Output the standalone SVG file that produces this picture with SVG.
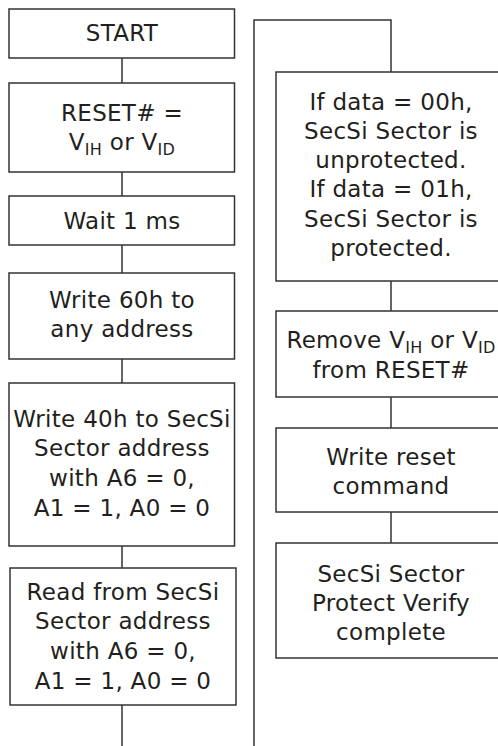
<svg xmlns="http://www.w3.org/2000/svg" width="498" height="746" viewBox="0 0 498 746">
<style>
.box{fill:#fff;stroke:#333;stroke-width:1.5}
.ln{fill:none;stroke:#333;stroke-width:1.5}
text{font-family:"DejaVu Sans",Verdana,sans-serif;font-size:23px;letter-spacing:0.3px;fill:#231f20;text-anchor:middle}
.sub{font-size:16px}
</style>
<rect width="498" height="746" fill="#fff"/>
<g id="connectors">
<path class="ln" d="M122,58V83M122,172V196M122,245V273M122,359V383M122,546V568M122,705V746"/>
<path class="ln" d="M254,746V20H391V72M391,281V311M391,397V428M391,512V543"/>
</g>
<g id="start"><rect class="box" x="9" y="9" width="225.5" height="49"/><text x="122" y="41">START</text></g>
<g id="reset"><rect class="box" x="9" y="83" width="225.5" height="89"/>
<text x="122" y="121">RESET# =</text>
<text x="122" y="150">V<tspan class="sub" dy="5">IH</tspan><tspan dy="-5"> or V</tspan><tspan class="sub" dy="5">ID</tspan></text></g>
<g id="wait"><rect class="box" x="9" y="196" width="225.5" height="49"/><text x="122" y="229">Wait 1 ms</text></g>
<g id="write60"><rect class="box" x="9" y="273" width="225.5" height="86"/>
<text x="122" y="308">Write 60h to</text><text x="122" y="337">any address</text></g>
<g id="write40"><rect class="box" x="9" y="383" width="225.5" height="163"/>
<text x="122" y="427">Write 40h to SecSi</text><text x="122" y="456">Sector address</text><text x="122" y="486">with A6 = 0,</text><text x="122" y="516">A1 = 1, A0 = 0</text></g>
<g id="read"><rect class="box" x="10" y="568" width="226" height="137"/>
<text x="123" y="600">Read from SecSi</text><text x="123" y="629">Sector address</text><text x="123" y="659">with A6 = 0,</text><text x="123" y="689">A1 = 1, A0 = 0</text></g>
<g id="ifdata"><rect class="box" x="276" y="72" width="230" height="209"/>
<text x="391" y="110">If data = 00h,</text><text x="391" y="139">SecSi Sector is</text><text x="391" y="168">unprotected.</text><text x="391" y="197">If data = 01h,</text><text x="391" y="227">SecSi Sector is</text><text x="391" y="256">protected.</text></g>
<g id="remove"><rect class="box" x="276" y="311" width="230" height="86"/>
<text x="391" y="348">Remove V<tspan class="sub" dy="5">IH</tspan><tspan dy="-5"> or V</tspan><tspan class="sub" dy="5">ID</tspan></text><text x="391" y="378">from RESET#</text></g>
<g id="writereset"><rect class="box" x="276" y="428" width="230" height="84"/>
<text x="391" y="465">Write reset</text><text x="391" y="494">command</text></g>
<g id="complete"><rect class="box" x="276" y="543" width="230" height="115"/>
<text x="391" y="582">SecSi Sector</text><text x="391" y="611">Protect Verify</text><text x="391" y="640">complete</text></g>
</svg>
